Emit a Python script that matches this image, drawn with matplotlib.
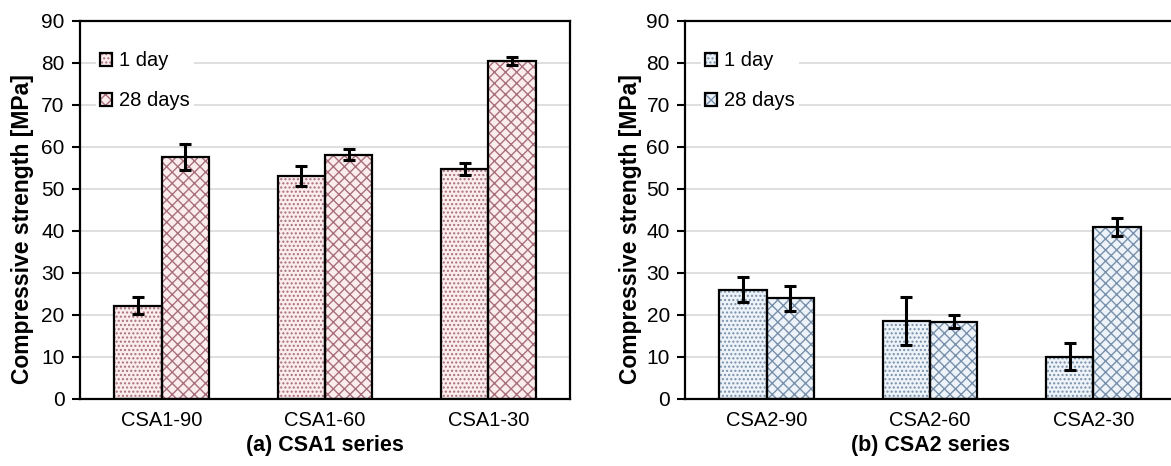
import numpy as np
import matplotlib
matplotlib.use("Agg")
import matplotlib.pyplot as plt
from matplotlib.legend_handler import HandlerTuple

plt.rcParams['font.family'] = ['Liberation Sans', 'DejaVu Sans']
plt.rcParams['hatch.linewidth'] = 1.0

# ---------------------------
# Data
# ---------------------------
csa1_labels = ["CSA1-90", "CSA1-60", "CSA1-30"]
csa1_day1 = [22.2, 53.0, 54.8]
csa1_day1_err = [2.0, 2.4, 1.4]
csa1_day28 = [57.6, 58.2, 80.5]
csa1_day28_err = [3.0, 1.2, 1.0]

csa2_labels = ["CSA2-90", "CSA2-60", "CSA2-30"]
csa2_day1 = [26.0, 18.6, 10.1]
csa2_day1_err = [3.0, 5.8, 3.3]
csa2_day28 = [24.0, 18.4, 40.9]
csa2_day28_err = [3.0, 1.6, 2.2]

series_names = ["1 day", "28 days"]
yticks = [0, 10, 20, 30, 40, 50, 60, 70, 80, 90]

fig = plt.figure(figsize=(11.71, 4.66), dpi=100)
ax1 = fig.add_axes([0.0683, 0.1438, 0.4184, 0.8112])
ax2 = fig.add_axes([0.5850, 0.1438, 0.4184, 0.8112])

BW = 0.29


def draw_panel(ax, labels, d1, e1, d28, e28, hcolor, fcolor, xlabel, ylx):
    x = np.arange(len(labels))
    handles = []
    for vals, errs, off, hatch in [(d1, e1, -BW / 2, '....'),
                                   (d28, e28, BW / 2, 'xxx')]:
        hb = ax.bar(x + off, vals, BW, color=fcolor, edgecolor=hcolor,
                    hatch=hatch, linewidth=0, zorder=2)
        ob = ax.bar(x + off, vals, BW, fill=False, edgecolor='black',
                    linewidth=1.6, zorder=3)
        ax.errorbar(x + off, vals, yerr=errs, fmt='none', ecolor='black',
                    elinewidth=2.2, capsize=4, capthick=2.2, zorder=4)
        handles.append((hb[0], ob[0]))

    ax.set_xlim(-0.5, len(labels) - 0.5)
    ax.set_ylim(0, 90)
    ax.set_yticks(yticks)
    ax.set_xticks(x)
    ax.set_xticklabels(labels, fontsize=14.5)
    ax.tick_params(axis='x', length=0, pad=9)
    ax.tick_params(axis='y', direction='out', length=6, width=1.5,
                   labelsize=15, pad=5)
    ax.yaxis.grid(True, color='#d9d9d9', linewidth=1.2, zorder=0)
    ax.set_axisbelow(True)
    for s in ax.spines.values():
        s.set_linewidth(1.6)
    ax.set_ylabel("Compressive strength [MPa]", fontsize=16.5,
                  fontweight='bold')
    ax.yaxis.set_label_coords(ylx, 0.45)
    ax.set_xlabel(xlabel, fontsize=15.5, fontweight='bold', labelpad=3)

    leg = ax.legend(handles, series_names,
                    handler_map={tuple: HandlerTuple(ndivide=1)},
                    loc='upper left', bbox_to_anchor=(0.012, 0.957),
                    fontsize=14.5, handlelength=0.6, handleheight=0.6,
                    handletextpad=0.35, labelspacing=1.05,
                    frameon=True, fancybox=False, borderpad=0.2)
    leg.get_frame().set_edgecolor('none')
    leg.get_frame().set_facecolor('white')
    leg.get_frame().set_alpha(1)


draw_panel(ax1, csa1_labels, csa1_day1, csa1_day1_err, csa1_day28,
           csa1_day28_err, '#a8707a', '#fbecee', "(a) CSA1 series", -0.094)
draw_panel(ax2, csa2_labels, csa2_day1, csa2_day1_err, csa2_day28,
           csa2_day28_err, '#7890ab', '#edf3f9', "(b) CSA2 series", -0.088)

fig.savefig("out.png", dpi=100)
